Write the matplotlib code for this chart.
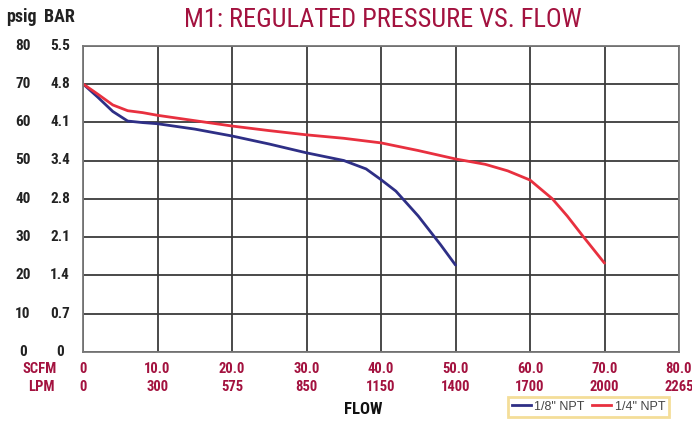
import matplotlib
matplotlib.use("Agg")
import matplotlib.pyplot as plt
from matplotlib.transforms import blended_transform_factory
from matplotlib.lines import Line2D

# ---- data ----
psig_ticks = [0, 10, 20, 30, 40, 50, 60, 70, 80]
bar_labels = ["0", "0.7", "1.4", "2.1", "2.8", "3.4", "4.1", "4.8", "5.5"]
scfm_ticks = [0, 10, 20, 30, 40, 50, 60, 70, 80]
scfm_labels = ["0", "10.0", "20.0", "30.0", "40.0", "50.0", "60.0", "70.0", "80.0"]
lpm_labels = ["0", "300", "575", "850", "1150", "1400", "1700", "2000", "2265"]

flow_18 = [0, 2, 4, 6, 8, 10, 15, 20, 25, 30, 35, 38, 40, 42, 45, 48, 50]
psig_18 = [70, 66.5, 62.8, 60.3, 59.9, 59.6, 58.2, 56.4, 54.3, 52.0, 50.0, 47.8, 45.0, 42.0, 35.5, 28.0, 22.7]

flow_14 = [0, 2, 4, 6, 8, 10, 15, 20, 25, 30, 35, 40, 45, 50, 54, 57, 60, 63, 65, 67, 70]
psig_14 = [70, 67.3, 64.5, 63.0, 62.5, 61.8, 60.4, 59.0, 57.8, 56.7, 55.8, 54.6, 52.6, 50.4, 49.0, 47.3, 44.9, 40.0, 35.5, 30.5, 23.2]

series_names = ['1/8" NPT', '1/4" NPT']

# ---- style ----
NAVY = "#2e2f86"
RED = "#e8303f"
CRIMSON = "#a3123f"
GRID = "#3a3a3a"
TICKF = ["Roboto Condensed", "DejaVu Sans"]
TITLEF = ["Roboto Condensed", "DejaVu Sans"]

W, H = 692, 421
fig = plt.figure(figsize=(W / 100, H / 100), dpi=100)
fig.patch.set_facecolor("white")

x0, x1 = 83, 679
y0, y1 = 352, 45.6
ax = fig.add_axes([x0 / W, 1 - y0 / H, (x1 - x0) / W, (y0 - y1) / H])
ax.set_xlim(0, 80)
ax.set_ylim(0, 80)
ax.set_xticks(scfm_ticks)
ax.set_yticks(psig_ticks)
ax.tick_params(length=0, labelbottom=False, labelleft=False)
ax.grid(True, color=GRID, linewidth=1.3)
for s in ax.spines.values():
    s.set_color("#777777")
    s.set_linewidth(1.3)

ax.plot(flow_18, psig_18, color=NAVY, linewidth=2.0, solid_capstyle="round")
ax.plot(flow_14, psig_14, color=RED, linewidth=2.0, solid_capstyle="round")

tk = dict(family=TICKF, fontweight="bold", fontsize=11)
tkx = dict(family=TICKF, fontweight="bold", fontsize=10.5)

# y labels (two columns)
ty = blended_transform_factory(fig.transFigure, ax.transData)
for v, b in zip(psig_ticks, bar_labels):
    ax.text(23 / W, v, str(v), transform=ty, ha="center", va="center",
            color="#222222", clip_on=False, **tk)
    ax.text(60 / W, v, b, transform=ty, ha="center", va="center",
            color="#222222", clip_on=False, **tk)
fig.text(21 / W, 1 - 17 / H, "psig", ha="center", va="center",
         family=TICKF, fontweight="bold", fontsize=13, color="#222222")
fig.text(59 / W, 1 - 17 / H, "BAR", ha="center", va="center",
         family=TICKF, fontweight="bold", fontsize=13, color="#222222")

# x labels (two rows)
tx = blended_transform_factory(ax.transData, fig.transFigure)
for v, s, l in zip(scfm_ticks, scfm_labels, lpm_labels):
    ax.text(v, 1 - 369 / H, s, transform=tx, ha="center", va="center",
            color=CRIMSON, clip_on=False, **tkx)
    ax.text(v, 1 - 387 / H, l, transform=tx, ha="center", va="center",
            color=CRIMSON, clip_on=False, **tkx)
fig.text(57 / W, 1 - 369 / H, "SCFM", ha="right", va="center", color=CRIMSON, **tkx)
fig.text(55 / W, 1 - 387 / H, "LPM", ha="right", va="center", color=CRIMSON, **tkx)

fig.text(363 / W, 1 - 410 / H, "FLOW", ha="center", va="center",
         family=TICKF, fontweight="bold", fontsize=12, color="#111111")

fig.text(383 / W, 1 - 20 / H, "M1: REGULATED PRESSURE VS. FLOW", ha="center", va="center",
         family=TITLEF, fontsize=19, color=CRIMSON)

# legend
handles = [Line2D([], [], color=NAVY, linewidth=2), Line2D([], [], color=RED, linewidth=2)]
leg = fig.legend(handles, series_names, loc="upper left",
                 bbox_to_anchor=(508 / W, 1 - 397 / H), ncol=2, frameon=True,
                 prop={"family": ["Liberation Sans", "DejaVu Sans"], "size": 9},
                 handlelength=1.5, handletextpad=0.3, columnspacing=0.6,
                 borderpad=0.3, borderaxespad=0, fancybox=False, labelcolor="#444444")
leg.get_frame().set_edgecolor("#f2d680")
leg.get_frame().set_linewidth(2)

fig.savefig("out.png", dpi=100, facecolor="white")
